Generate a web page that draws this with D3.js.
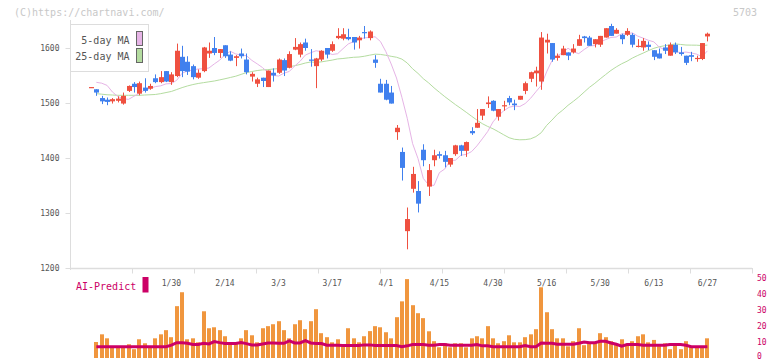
<!DOCTYPE html>
<html><head><meta charset="utf-8">
<script src="https://cdn.jsdelivr.net/npm/d3@7"></script>
<style>
html,body{margin:0;padding:0;background:#fff;}
svg{display:block;font-family:"DejaVu Sans Mono","Liberation Mono",monospace;}
</style></head><body>
<svg id="c" width="772" height="361"></svg>
<script>
// ---- data (trading days, index 0 .. 115) ----
const opens=[1528,1525,1509,1506,1503,1504,1499,1522,1535,1517,1528,1526,1545,1538,1558,1538,1549,1584,1575,1567,1546,1558,1590,1600,1591,1605,1588,1582,1590,1579,1548,1535,1546,1529,1555,1555,1578,1564,1597,1588,1610,1579,1567,1579,1600,1595,1618,1617,1620,1620,1614,1629,1618,1579,1535,1535,1519,1447,1411,1267,1344,1340,1415,1348,1396,1407,1405,1388,1407,1423,1413,1449,1455,1477,1498,1504,1475,1495,1509,1499,1506,1522,1544,1554,1539,1610,1609,1582,1587,1592,1592,1604,1621,1619,1607,1606,1619,1640,1626,1624,1624,1624,1602,1601,1606,1596,1590,1601,1586,1606,1592,1586,1587,1581,1580,1621];
const highs=[1529,1525,1513,1510,1509,1512,1519,1532,1538,1539,1545,1535,1552,1558,1558,1556,1608,1604,1585,1570,1561,1602,1610,1620,1598,1605,1594,1587,1599,1590,1556,1546,1546,1559,1563,1581,1581,1594,1618,1610,1617,1598,1582,1596,1600,1612,1636,1636,1635,1620,1622,1640,1632,1587,1544,1542,1531,1460,1419,1310,1384,1358,1425,1389,1415,1412,1413,1400,1424,1424,1430,1456,1489,1489,1512,1505,1489,1504,1513,1506,1513,1539,1557,1566,1629,1626,1609,1590,1604,1592,1607,1624,1622,1622,1616,1622,1636,1644,1636,1626,1636,1627,1616,1618,1612,1596,1599,1607,1610,1610,1602,1586,1593,1586,1609,1628];
const lows=[1528,1513,1498,1496,1499,1501,1497,1520,1519,1514,1519,1524,1536,1536,1538,1533,1547,1547,1551,1543,1544,1556,1582,1587,1582,1582,1576,1567,1581,1552,1539,1529,1529,1529,1539,1553,1549,1563,1596,1583,1595,1566,1527,1576,1581,1593,1616,1614,1614,1597,1599,1617,1614,1564,1519,1505,1499,1433,1359,1234,1337,1301,1385,1331,1385,1399,1383,1384,1404,1404,1402,1442,1455,1469,1491,1485,1468,1486,1496,1487,1506,1516,1538,1530,1524,1590,1575,1577,1587,1578,1590,1604,1610,1604,1601,1602,1619,1622,1626,1607,1622,1601,1601,1595,1596,1578,1581,1589,1586,1589,1586,1569,1576,1575,1578,1612];
const closes=[1529,1519,1503,1502,1507,1508,1513,1531,1529,1536,1522,1531,1538,1547,1539,1552,1595,1558,1557,1547,1555,1601,1595,1591,1598,1585,1577,1585,1585,1556,1553,1543,1540,1559,1550,1579,1559,1589,1602,1607,1600,1577,1581,1595,1588,1607,1622,1625,1616,1610,1619,1627,1630,1573,1519,1506,1499,1455,1382,1289,1371,1317,1396,1378,1405,1404,1393,1400,1423,1413,1429,1445,1464,1489,1501,1486,1489,1496,1501,1496,1513,1536,1556,1559,1619,1615,1579,1586,1599,1586,1599,1616,1618,1604,1616,1622,1636,1622,1633,1616,1631,1606,1604,1613,1602,1584,1581,1595,1606,1592,1589,1573,1584,1582,1609,1626];
const volumes=[null,10,14.8,12.3,7,7,7,8.6,5.5,11.7,9.2,6.5,12.3,14.8,17.4,13,32.4,41.1,11.7,12.3,9.8,29.2,18.6,19.2,17.4,13.6,9.8,9.8,12.3,17.4,14.2,9.8,18.6,19.9,21.1,23,17.4,12.3,21.1,23.6,18,23,30.5,15.5,13,9.8,11.7,8.6,18.6,12.3,9.8,13.6,16.8,19.9,19.2,16.1,12.3,25.5,35.4,49.3,33,28,24.9,16.7,10.5,6.7,9.2,6.7,9.2,9.2,6.7,12.3,13.6,12.3,19.9,12.3,9.2,10.5,14.2,9.8,9.8,13,14.8,18,44.2,28.6,18,12.3,12.3,7.3,10.5,18.6,8,9.8,9.8,15.5,13,10.5,8.6,11.7,7.6,10.5,13.6,14.8,9.8,11.3,7.4,9.2,5.5,8.6,5.5,10.5,7.4,7.4,6.7,12.3];
const ma5=[null,1537.6,1536,1532,1520,1512.0,1507.8,1506.6,1512.2,1517.6,1523.4,1526.2,1529.8,1531.2,1534.8,1535.4,1541.4,1554.2,1558.2,1560.2,1561.8,1562.4,1563.6,1571.0,1577.8,1588.0,1594.0,1589.2,1587.2,1586.0,1577.6,1571.2,1564.4,1555.4,1550.2,1549.0,1554.2,1557.4,1567.2,1575.8,1587.2,1591.4,1595.0,1593.4,1592.0,1588.2,1589.6,1598.6,1607.4,1611.6,1616.0,1618.4,1619.4,1620.4,1611.8,1593.6,1571.0,1545.4,1510.4,1472.2,1426.2,1399.2,1362.8,1351.0,1350.2,1373.4,1380.0,1395.2,1396.0,1405.0,1406.6,1411.6,1422.0,1434.8,1448.0,1465.6,1477.0,1485.8,1492.2,1494.6,1493.6,1499.0,1508.4,1520.4,1532.0,1556.6,1577.0,1585.6,1591.6,1599.6,1593.0,1589.8,1597.2,1603.6,1604.6,1610.6,1615.2,1619.2,1620.0,1625.8,1625.8,1627.6,1621.6,1618.0,1614.0,1611.2,1601.8,1596.8,1595.0,1593.6,1591.6,1592.6,1591.0,1588.8,1584.0,1594.8];
const ma25=[null,1517,1516,1515,1514.5,1514,1514,1514,1514,1514,1514.5,1515,1515.5,1517,1519,1521,1524.5,1528,1531,1533.5,1535.5,1537,1538.5,1540,1542,1544.1,1546.4,1548.7,1552.0,1555.3,1557.2,1559.0,1560.2,1560.6,1561.8,1562.4,1564.6,1565.8,1567.8,1570.0,1572.7,1574.6,1573.9,1574.8,1576.4,1578.0,1580.1,1580.9,1582.1,1583.1,1583.6,1585.0,1587.0,1588.8,1588.3,1586.8,1584.9,1583.2,1579.8,1572.7,1562.2,1553.9,1544.2,1536.5,1527.6,1519.5,1511.6,1504.3,1497.0,1490.2,1483.2,1476.0,1469.0,1462.5,1457.4,1453.1,1447.8,1442.2,1436.9,1434.0,1433.1,1433.4,1434.8,1438.9,1446.0,1459.2,1468.9,1479.4,1487.0,1495.8,1503.1,1510.9,1519.8,1528.5,1535.8,1543.9,1551.6,1559.2,1565.6,1571.3,1575.9,1581.7,1586.4,1590.7,1595.2,1599.4,1602.3,1604.1,1605.6,1607.5,1606.4,1605.4,1605.2,1605.1,1604.4,1605.3];
const aiPredict=[null,7.1,7.1,7.1,7.1,7.1,7.1,7.1,7.1,7.1,7.1,7.1,7.1,7.1,7.1,8,9.6,9.6,9.2,8.4,8.4,9.2,8.8,10.3,9.6,9,9,9,9.6,9,8.2,8.2,8.8,9.4,9.4,9.2,9.2,10.7,9.4,9.4,10.9,9.4,9,9,8,8,8,7.8,7.8,7.8,7.8,8.2,8.2,7.8,7.8,7.8,7.8,7.8,7.1,7.6,8.4,8.4,8.4,8,8,8.4,8.4,8,8,8,8,8,8.4,7.6,7.6,7,7,7,7,7,7,7.8,7,7,9.4,9.2,9.2,8.6,8.6,8.6,8.6,9.2,10,9.6,9.6,10.5,10.5,9.4,8.6,7.35,8.4,8.4,8.4,8,8,8,8,8,8.4,8.4,8.4,8,7.1,7.1,7.1,7.1];
const dateLabels=["1/30","2/14","3/3","3/17","4/1","4/15","4/30","5/16","5/30","6/13","6/27"];
const dateLabelDays=[15,25,35,45,55,65,75,85,95,105,115];
const priceTicks=[1200,1300,1400,1500,1600];
const volumeTicks=[0,10,20,30,40,50];
const legendItems=["5-day MA","25-day MA"];
const stockCode="5703";

// ---- drawing ----
const svg=d3.select("#c");
const days=d3.range(closes.length);
const x=d3.scaleLinear().domain([0,closes.length-1]).range([91,707.4]);
const y=d3.scaleLinear().domain([1200,1600]).range([268,48]);
const yv=d3.scaleLinear().domain([0,50]).range([358,278]);
const gridX=d3.scaleLinear().domain([0,11]).range([70,752]);

const RED="#ef5040", BLUE="#4080ee", PINK="#e6b4e6", GREEN="#b4dca0", MAG="#cc0066", ORANGE="#f0963e";

// watermark / code
svg.append("text").attr("x",14).attr("y",16).attr("font-size",10).attr("fill","#c8c8c8").text("(C)https://chartnavi.com/");
svg.append("text").attr("x",757).attr("y",16).attr("text-anchor","end").attr("font-size",10).attr("fill","#c8c8c8").text(stockCode);

// axes
const yAxis=d3.axisLeft(y).tickValues(priceTicks).tickSize(5).tickPadding(6).tickFormat(d3.format("d"));
const ga=svg.append("g").attr("transform","translate(70.5,0)").call(yAxis);
ga.select(".domain").remove();
ga.selectAll("line").attr("stroke","#ddd");
ga.selectAll("text").attr("font-size",8).attr("fill","#555").attr("font-family","DejaVu Sans Mono");
svg.append("line").attr("x1",70.5).attr("x2",70.5).attr("y1",20).attr("y2",270).attr("stroke","#ddd");
svg.append("line").attr("x1",70).attr("x2",752).attr("y1",268.5).attr("y2",268.5).attr("stroke","#ddd").attr("stroke-width",1.5);
svg.append("g").selectAll("line").data(d3.range(1,12)).join("line")
  .attr("x1",d=>Math.round(gridX(d))+0.5).attr("x2",d=>Math.round(gridX(d))+0.5)
  .attr("y1",268).attr("y2",273.5).attr("stroke","#ddd");
svg.append("g").selectAll("text").data(dateLabels).join("text")
  .attr("x",(d,k)=>x(dateLabelDays[k])).attr("y",286).attr("text-anchor","middle")
  .attr("font-size",8).attr("fill","#555").text(d=>d);

// moving averages
const line=d3.line().defined(d=>d[1]!=null).x(d=>x(d[0])).y(d=>y(d[1]));
svg.append("path").datum(days.map(i=>[i,ma25[i]])).attr("d",line).attr("fill","none").attr("stroke",GREEN).attr("stroke-width",1);
svg.append("path").datum(days.map(i=>[i,ma5[i]])).attr("d",line).attr("fill","none").attr("stroke",PINK).attr("stroke-width",1);

// candles
const cg=svg.append("g");
days.forEach(i=>{
  const up=closes[i]>=opens[i];
  const col=up?RED:BLUE;
  const cx=Math.round(x(i));
  cg.append("line").attr("x1",cx+0.5).attr("x2",cx+0.5).attr("y1",y(highs[i])).attr("y2",y(lows[i])).attr("stroke",col).attr("stroke-width",1);
  const top=y(Math.max(opens[i],closes[i])), bot=y(Math.min(opens[i],closes[i]));
  cg.append("rect").attr("x",cx-2).attr("width",5).attr("y",top).attr("height",Math.max(1.2,bot-top)).attr("fill",col);
});

// legend
const lg=svg.append("g");
lg.append("rect").attr("x",70.5).attr("y",24.5).attr("width",78).attr("height",47).attr("fill","#fff").attr("stroke","#ddd");
lg.selectAll("text").data(legendItems).join("text")
  .attr("x",129.5).attr("y",(d,k)=>40+k*16.5).attr("dy","0.35em").attr("text-anchor","end")
  .attr("font-size",10).attr("fill","#555").text(d=>d);
lg.selectAll("rect.sw").data([PINK,GREEN]).join("rect").attr("class","sw")
  .attr("x",136.5).attr("y",(d,k)=>31.5+k*17).attr("width",6).attr("height",14)
  .attr("fill",d=>d).attr("stroke","#666");

// volume
svg.append("g").selectAll("rect").data(days.filter(i=>volumes[i]!=null)).join("rect")
  .attr("x",i=>Math.round(x(i))-2).attr("width",4)
  .attr("y",i=>yv(volumes[i])).attr("height",i=>yv(0)-yv(volumes[i])).attr("fill",ORANGE);
const aiLine=d3.line().defined(d=>d[1]!=null).x(d=>x(d[0])).y(d=>yv(d[1]));
svg.append("path").datum(days.map(i=>[i,aiPredict[i]])).attr("d",aiLine).attr("fill","none").attr("stroke",MAG).attr("stroke-width",3);
svg.append("g").selectAll("text").data(volumeTicks).join("text")
  .attr("x",757).attr("y",d=>Math.min(yv(d)+2.8,358.5)).attr("font-size",8).attr("fill",MAG).text(d=>d);
svg.append("text").attr("x",76).attr("y",289.5).attr("font-size",10).attr("fill",MAG).text("AI-Predict");
svg.append("rect").attr("x",142.5).attr("y",277).attr("width",6).attr("height",15.5).attr("fill",MAG);
</script>
</body></html>
